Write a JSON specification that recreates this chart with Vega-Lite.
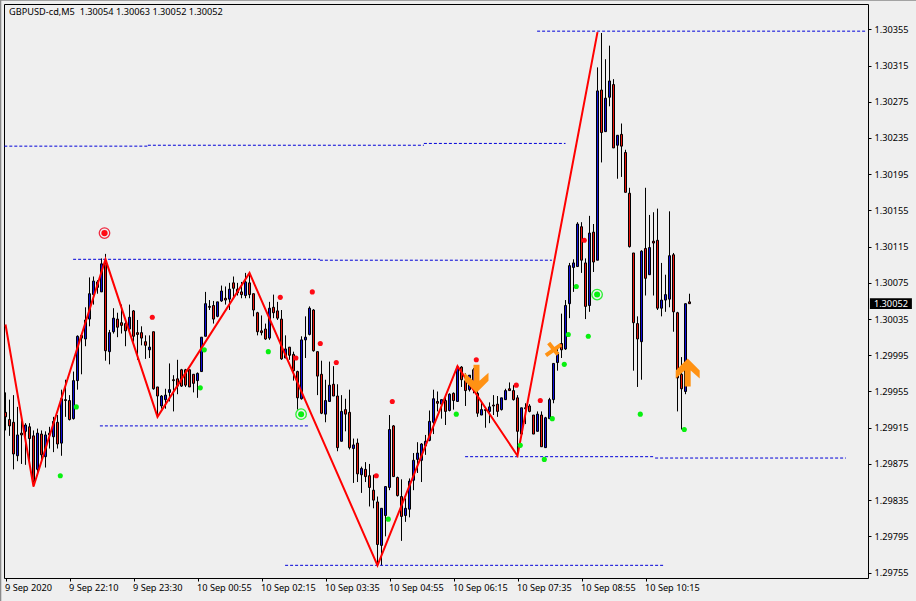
{
"$schema":"https://vega.github.io/schema/vega-lite/v6.json",
"width":864,"height":574,
"autosize":{"type":"none"},
"padding":{"left":4,"top":4,"right":48,"bottom":23},
"background":"#efefef",
"config":{"view":{"stroke":"black","strokeWidth":1,"fill":"#efefef"},"font":"Noto Sans"},
"datasets":{
"candles":[
{"i":0,"o":1.29932,"h":1.29954,"l":1.29912,"c":1.29927},
{"i":1,"o":1.29924,"h":1.29946,"l":1.29906,"c":1.29917},
{"i":2,"o":1.29921,"h":1.29951,"l":1.29869,"c":1.29886},
{"i":3,"o":1.29884,"h":1.29938,"l":1.29878,"c":1.29907},
{"i":4,"o":1.29909,"h":1.29923,"l":1.29875,"c":1.29907},
{"i":5,"o":1.29911,"h":1.2992,"l":1.29874,"c":1.29918},
{"i":6,"o":1.29916,"h":1.2992,"l":1.29879,"c":1.29903},
{"i":7,"o":1.29906,"h":1.29912,"l":1.2985,"c":1.29856},
{"i":8,"o":1.29869,"h":1.29914,"l":1.29865,"c":1.29909},
{"i":9,"o":1.29908,"h":1.29912,"l":1.29876,"c":1.29885},
{"i":10,"o":1.29883,"h":1.29911,"l":1.29871,"c":1.29907},
{"i":11,"o":1.29909,"h":1.29916,"l":1.29892,"c":1.29907},
{"i":12,"o":1.29905,"h":1.29927,"l":1.29888,"c":1.29922},
{"i":13,"o":1.29921,"h":1.29929,"l":1.29892,"c":1.29897},
{"i":14,"o":1.29898,"h":1.29957,"l":1.29884,"c":1.29947},
{"i":15,"o":1.29946,"h":1.29968,"l":1.29927,"c":1.29945},
{"i":16,"o":1.29945,"h":1.29951,"l":1.29923,"c":1.29924},
{"i":17,"o":1.29925,"h":1.29977,"l":1.29924,"c":1.29967},
{"i":18,"o":1.29967,"h":1.30017,"l":1.29957,"c":1.30016},
{"i":19,"o":1.30017,"h":1.30018,"l":1.29974,"c":1.30014},
{"i":20,"o":1.30013,"h":1.30048,"l":1.30005,"c":1.30034},
{"i":21,"o":1.30035,"h":1.30081,"l":1.30027,"c":1.30063},
{"i":22,"o":1.30062,"h":1.30082,"l":1.30051,"c":1.30077},
{"i":23,"o":1.30076,"h":1.30078,"l":1.30063,"c":1.3007},
{"i":24,"o":1.30065,"h":1.30102,"l":1.30065,"c":1.30096},
{"i":25,"o":1.30097,"h":1.30107,"l":1.29989,"c":1.3},
{"i":26,"o":1.29999,"h":1.30023,"l":1.29985,"c":1.3002},
{"i":27,"o":1.30021,"h":1.30047,"l":1.30019,"c":1.30036},
{"i":28,"o":1.30035,"h":1.30042,"l":1.30015,"c":1.30026},
{"i":29,"o":1.30031,"h":1.30051,"l":1.30019,"c":1.30028},
{"i":30,"o":1.3003,"h":1.30034,"l":1.30005,"c":1.30022},
{"i":31,"o":1.30024,"h":1.30051,"l":1.30019,"c":1.30037},
{"i":32,"o":1.30044,"h":1.30045,"l":1.3001,"c":1.30016},
{"i":33,"o":1.3002,"h":1.30034,"l":1.2999,"c":1.30018},
{"i":34,"o":1.3002,"h":1.30027,"l":1.30006,"c":1.30014},
{"i":35,"o":1.3001,"h":1.30017,"l":1.29991,"c":1.30006},
{"i":36,"o":1.30001,"h":1.30017,"l":1.29992,"c":1.30004},
{"i":37,"o":1.30021,"h":1.30021,"l":1.29957,"c":1.29958},
{"i":38,"o":1.2996,"h":1.2996,"l":1.29926,"c":1.2995},
{"i":39,"o":1.29939,"h":1.29951,"l":1.29936,"c":1.2995},
{"i":40,"o":1.29946,"h":1.29958,"l":1.29936,"c":1.29951},
{"i":41,"o":1.29954,"h":1.29986,"l":1.29944,"c":1.29957},
{"i":42,"o":1.29968,"h":1.29973,"l":1.29933,"c":1.29967},
{"i":43,"o":1.29969,"h":1.2999,"l":1.29952,"c":1.29961},
{"i":44,"o":1.29979,"h":1.2998,"l":1.2996,"c":1.29961},
{"i":45,"o":1.29979,"h":1.2998,"l":1.2996,"c":1.29962},
{"i":46,"o":1.29979,"h":1.29979,"l":1.2996,"c":1.2996},
{"i":47,"o":1.29974,"h":1.29974,"l":1.29954,"c":1.29964},
{"i":48,"o":1.29967,"h":1.29976,"l":1.29948,"c":1.29975},
{"i":49,"o":1.29977,"h":1.30015,"l":1.29977,"c":1.30015},
{"i":50,"o":1.30016,"h":1.30065,"l":1.30016,"c":1.30052},
{"i":51,"o":1.30049,"h":1.30056,"l":1.30045,"c":1.30048},
{"i":52,"o":1.3005,"h":1.30055,"l":1.3003,"c":1.30035},
{"i":53,"o":1.30038,"h":1.30054,"l":1.30037,"c":1.30054},
{"i":54,"o":1.30055,"h":1.30072,"l":1.30054,"c":1.30066},
{"i":55,"o":1.30058,"h":1.30071,"l":1.30051,"c":1.30056},
{"i":56,"o":1.30057,"h":1.30075,"l":1.30045,"c":1.30068},
{"i":57,"o":1.30075,"h":1.30082,"l":1.30058,"c":1.30069},
{"i":58,"o":1.30068,"h":1.30075,"l":1.30061,"c":1.30064},
{"i":59,"o":1.30065,"h":1.30076,"l":1.30058,"c":1.30062},
{"i":60,"o":1.30061,"h":1.30086,"l":1.30058,"c":1.30076},
{"i":61,"o":1.30075,"h":1.30086,"l":1.30058,"c":1.30062},
{"i":62,"o":1.30063,"h":1.30063,"l":1.30038,"c":1.30045},
{"i":63,"o":1.30042,"h":1.30043,"l":1.30017,"c":1.30021},
{"i":64,"o":1.30022,"h":1.30039,"l":1.30017,"c":1.3002},
{"i":65,"o":1.30024,"h":1.3003,"l":1.30012,"c":1.30013},
{"i":66,"o":1.30014,"h":1.30054,"l":1.30012,"c":1.30047},
{"i":67,"o":1.30048,"h":1.30062,"l":1.30036,"c":1.30042},
{"i":68,"o":1.30044,"h":1.30054,"l":1.30034,"c":1.30036},
{"i":69,"o":1.30035,"h":1.30045,"l":1.2999,"c":1.29991},
{"i":70,"o":1.29992,"h":1.30017,"l":1.29992,"c":1.30002},
{"i":71,"o":1.30004,"h":1.30004,"l":1.2999,"c":1.29995},
{"i":72,"o":1.29996,"h":1.29999,"l":1.29967,"c":1.29978},
{"i":73,"o":1.29977,"h":1.29978,"l":1.29935,"c":1.29948},
{"i":74,"o":1.29947,"h":1.30016,"l":1.29946,"c":1.30012},
{"i":75,"o":1.30012,"h":1.30038,"l":1.29992,"c":1.30015},
{"i":76,"o":1.30018,"h":1.30049,"l":1.30017,"c":1.30047},
{"i":77,"o":1.30045,"h":1.30046,"l":1.29999,"c":1.3},
{"i":78,"o":1.29999,"h":1.29999,"l":1.29951,"c":1.29972},
{"i":79,"o":1.29974,"h":1.29989,"l":1.2993,"c":1.29931},
{"i":80,"o":1.2993,"h":1.29968,"l":1.29921,"c":1.29945},
{"i":81,"o":1.29944,"h":1.29988,"l":1.29944,"c":1.29962},
{"i":82,"o":1.29963,"h":1.29983,"l":1.2995,"c":1.2995},
{"i":83,"o":1.2995,"h":1.29963,"l":1.29889,"c":1.29893},
{"i":84,"o":1.299,"h":1.29951,"l":1.299,"c":1.29933},
{"i":85,"o":1.29935,"h":1.29947,"l":1.29911,"c":1.2993},
{"i":86,"o":1.29932,"h":1.29957,"l":1.29891,"c":1.29893},
{"i":87,"o":1.29892,"h":1.29903,"l":1.29854,"c":1.29896},
{"i":88,"o":1.29898,"h":1.29903,"l":1.29855,"c":1.29864},
{"i":89,"o":1.29863,"h":1.29872,"l":1.29843,"c":1.2987},
{"i":90,"o":1.29869,"h":1.29877,"l":1.29855,"c":1.29861},
{"i":91,"o":1.29862,"h":1.29875,"l":1.29828,"c":1.29849},
{"i":92,"o":1.29846,"h":1.29863,"l":1.29826,"c":1.29835},
{"i":93,"o":1.29833,"h":1.29839,"l":1.29763,"c":1.29786},
{"i":94,"o":1.29785,"h":1.29826,"l":1.29763,"c":1.29826},
{"i":95,"o":1.29818,"h":1.2985,"l":1.29795,"c":1.2985},
{"i":96,"o":1.29849,"h":1.29929,"l":1.29846,"c":1.29913},
{"i":97,"o":1.29917,"h":1.29918,"l":1.29861,"c":1.29861},
{"i":98,"o":1.2986,"h":1.29861,"l":1.29839,"c":1.2984},
{"i":99,"o":1.29839,"h":1.29858,"l":1.2979,"c":1.29817},
{"i":100,"o":1.29818,"h":1.29837,"l":1.29811,"c":1.29826},
{"i":101,"o":1.29825,"h":1.29859,"l":1.29816,"c":1.29856},
{"i":102,"o":1.29857,"h":1.29887,"l":1.29846,"c":1.29879},
{"i":103,"o":1.2988,"h":1.29899,"l":1.29865,"c":1.29887},
{"i":104,"o":1.29879,"h":1.29898,"l":1.29855,"c":1.29897},
{"i":105,"o":1.29895,"h":1.29907,"l":1.29885,"c":1.299},
{"i":106,"o":1.29901,"h":1.29934,"l":1.299,"c":1.29922},
{"i":107,"o":1.29921,"h":1.29957,"l":1.29908,"c":1.29947},
{"i":108,"o":1.29944,"h":1.29955,"l":1.29933,"c":1.29942},
{"i":109,"o":1.29941,"h":1.29946,"l":1.29925,"c":1.29946},
{"i":110,"o":1.29945,"h":1.29951,"l":1.29918,"c":1.29933},
{"i":111,"o":1.29934,"h":1.29953,"l":1.29933,"c":1.29952},
{"i":112,"o":1.29953,"h":1.29954,"l":1.29935,"c":1.29945},
{"i":113,"o":1.29944,"h":1.29982,"l":1.29944,"c":1.29982},
{"i":114,"o":1.29982,"h":1.29983,"l":1.2996,"c":1.29968},
{"i":115,"o":1.29967,"h":1.29975,"l":1.29939,"c":1.29956},
{"i":116,"o":1.29957,"h":1.29973,"l":1.29955,"c":1.29973},
{"i":117,"o":1.2996,"h":1.29981,"l":1.29953,"c":1.29979},
{"i":118,"o":1.29953,"h":1.29981,"l":1.29927,"c":1.29931},
{"i":119,"o":1.29929,"h":1.29944,"l":1.29929,"c":1.29935},
{"i":120,"o":1.29935,"h":1.29936,"l":1.29915,"c":1.29934},
{"i":121,"o":1.29933,"h":1.29943,"l":1.2992,"c":1.29938},
{"i":122,"o":1.2994,"h":1.29951,"l":1.29929,"c":1.29939},
{"i":123,"o":1.29941,"h":1.2995,"l":1.29927,"c":1.29933},
{"i":124,"o":1.29935,"h":1.29948,"l":1.29934,"c":1.29948},
{"i":125,"o":1.29946,"h":1.29958,"l":1.29946,"c":1.29956},
{"i":126,"o":1.29958,"h":1.29965,"l":1.29956,"c":1.29956},
{"i":127,"o":1.29956,"h":1.29962,"l":1.29945,"c":1.29946},
{"i":128,"o":1.29948,"h":1.29951,"l":1.29884,"c":1.29911},
{"i":129,"o":1.29908,"h":1.29937,"l":1.29908,"c":1.29937},
{"i":130,"o":1.29937,"h":1.29942,"l":1.29919,"c":1.29936},
{"i":131,"o":1.29939,"h":1.29941,"l":1.29932,"c":1.29933},
{"i":132,"o":1.29929,"h":1.29929,"l":1.29908,"c":1.29908},
{"i":133,"o":1.29911,"h":1.29933,"l":1.29911,"c":1.2993},
{"i":134,"o":1.29929,"h":1.29933,"l":1.29894,"c":1.29894},
{"i":135,"o":1.29893,"h":1.29927,"l":1.29893,"c":1.29926},
{"i":136,"o":1.29925,"h":1.29948,"l":1.29925,"c":1.29946},
{"i":137,"o":1.29946,"h":1.29986,"l":1.29942,"c":1.29986},
{"i":138,"o":1.29987,"h":1.30006,"l":1.29978,"c":1.29998},
{"i":139,"o":1.30008,"h":1.30041,"l":1.29992,"c":1.30001},
{"i":140,"o":1.30002,"h":1.30056,"l":1.30001,"c":1.3005},
{"i":141,"o":1.30052,"h":1.30097,"l":1.30036,"c":1.30094},
{"i":142,"o":1.30092,"h":1.30101,"l":1.30065,"c":1.30097},
{"i":143,"o":1.30093,"h":1.30142,"l":1.30093,"c":1.3014},
{"i":144,"o":1.30137,"h":1.30142,"l":1.30086,"c":1.301},
{"i":145,"o":1.30097,"h":1.30102,"l":1.30035,"c":1.30049},
{"i":146,"o":1.3005,"h":1.30149,"l":1.30043,"c":1.3013},
{"i":147,"o":1.30131,"h":1.3014,"l":1.30087,"c":1.30098},
{"i":148,"o":1.301,"h":1.30313,"l":1.301,"c":1.30287},
{"i":149,"o":1.30288,"h":1.30351,"l":1.30208,"c":1.30241},
{"i":150,"o":1.30242,"h":1.30322,"l":1.30242,"c":1.30279},
{"i":151,"o":1.3028,"h":1.30337,"l":1.3027,"c":1.30298},
{"i":152,"o":1.30294,"h":1.303,"l":1.30224,"c":1.30224},
{"i":153,"o":1.30227,"h":1.30238,"l":1.3019,"c":1.30238},
{"i":154,"o":1.30239,"h":1.30251,"l":1.30192,"c":1.30226},
{"i":155,"o":1.30219,"h":1.30222,"l":1.30175,"c":1.30175},
{"i":156,"o":1.30174,"h":1.3018,"l":1.30114,"c":1.30115},
{"i":157,"o":1.30108,"h":1.30108,"l":1.29978,"c":1.30031},
{"i":158,"o":1.3003,"h":1.30038,"l":1.2996,"c":1.30013},
{"i":159,"o":1.3001,"h":1.30111,"l":1.29968,"c":1.3011},
{"i":160,"o":1.30113,"h":1.3018,"l":1.30061,"c":1.3008},
{"i":161,"o":1.30084,"h":1.3015,"l":1.30084,"c":1.30114},
{"i":162,"o":1.30121,"h":1.30153,"l":1.30061,"c":1.30119},
{"i":163,"o":1.30122,"h":1.30157,"l":1.30045,"c":1.30047},
{"i":164,"o":1.30047,"h":1.30097,"l":1.30038,"c":1.30056},
{"i":165,"o":1.30056,"h":1.30084,"l":1.30043,"c":1.30062},
{"i":166,"o":1.30057,"h":1.30154,"l":1.30048,"c":1.30105},
{"i":167,"o":1.30106,"h":1.30108,"l":1.30021,"c":1.30043},
{"i":168,"o":1.30042,"h":1.30043,"l":1.29933,"c":1.2997},
{"i":169,"o":1.29974,"h":1.29993,"l":1.29913,"c":1.29958},
{"i":170,"o":1.29955,"h":1.30052,"l":1.29952,"c":1.30052},
{"i":171,"o":1.30054,"h":1.30063,"l":1.30052,"c":1.30052}
]},
"encoding":{
"x":{"field":"i","type":"quantitative","scale":{"domain":[-0.375,215.625],"nice":false,"zero":false,"padding":0},
"axis":{"values":[0,16,32,48,64,80,96,112,128,144,160],"grid":false,"domain":false,"title":null,"tickSize":3,"tickColor":"black","labelAlign":"left","labelBaseline":"top","labelPadding":2,"labelOffset":-1,"labelFontSize":9.2,"labelColor":"black","labelFont":"Noto Sans","labelFlush":false,"labelBound":false,"labelOverlap":false,
"labelExpr":"['9 Sep 2020','9 Sep 22:10','9 Sep 23:30','10 Sep 00:55','10 Sep 02:15','10 Sep 03:35','10 Sep 04:55','10 Sep 06:15','10 Sep 07:35','10 Sep 08:55','10 Sep 10:15'][datum.value/16]"}}
},
"layer":[
{"data":{"name":"candles"},"mark":{"type":"rule","color":"black","strokeWidth":1},
"encoding":{"y":{"field":"l","type":"quantitative","scale":{"domain":[1.29749,1.30383],"nice":false,"zero":false},
"axis":{"orient":"right","tickCount":20,"values":[1.30355,1.30315,1.30275,1.30235,1.30195,1.30155,1.30115,1.30075,1.30035,1.29995,1.29955,1.29915,1.29875,1.29835,1.29795,1.29755],"format":".5f","grid":false,"domain":false,"title":null,"tickSize":3,"tickColor":"black","labelPadding":3,"labelFontSize":9.2,"labelColor":"black","labelFont":"Noto Sans","labelOverlap":false,"labelFlush":false,"labelBound":false}},
"y2":{"field":"h"}}},
{"data":{"name":"candles"},"mark":{"type":"bar","size":2,"stroke":"black","strokeWidth":1},
"encoding":{"y":{"field":"o","type":"quantitative"},"y2":{"field":"c"},
"color":{"condition":{"test":"datum.c>=datum.o","value":"#1010d8"},"value":"#e8140c"}}},
{"data":{"values":[
{"i":-0.3,"i2":35.6,"p":1.30226},{"i":35.6,"i2":104.6,"p":1.30227},{"i":104.6,"i2":140,"p":1.30229},
{"i":16.9,"i2":78.6,"p":1.30101},{"i":78.6,"i2":136.6,"p":1.301},
{"i":23.6,"i2":76,"p":1.29917},{"i":69.9,"i2":164.9,"p":1.29763},
{"i":114.9,"i2":162.4,"p":1.29883},{"i":162.4,"i2":210.1,"p":1.298815},
{"i":132.9,"i2":215.1,"p":1.30353}]},
"mark":{"type":"rule","color":"#0000d8","strokeWidth":1,"strokeDash":[3,2]},
"encoding":{"x2":{"field":"i2"},"y":{"field":"p","type":"quantitative"}}},
{"data":{"values":[
{"i":0,"p":1.30029},{"i":7,"p":1.2985},{"i":25,"p":1.30101},{"i":38,"p":1.29927},{"i":61,"p":1.30086},{"i":93,"p":1.29763},{"i":113,"p":1.29983},{"i":128,"p":1.29884},{"i":148,"p":1.30352}]},
"mark":{"type":"line","color":"#ff0000","strokeWidth":2},
"encoding":{"y":{"field":"p","type":"quantitative"}}},
{"data":{"values":[
{"i":36.7,"p":1.30037},{"i":68.7,"p":1.30059},{"i":76.7,"p":1.30065},{"i":72.6,"p":1.29992},{"i":78.7,"p":1.30008},{"i":82.7,"p":1.29987},{"i":96.7,"p":1.29944},{"i":92.7,"p":1.29862},{"i":117.7,"p":1.2999},{"i":127.7,"p":1.29962},{"i":133.7,"p":1.29945},{"i":144.7,"p":1.30122}]},
"mark":{"type":"point","filled":true,"color":"#ff0a14","opacity":1,"size":26},
"encoding":{"y":{"field":"p","type":"quantitative"}}},
{"data":{"values":[
{"i":17.7,"p":1.29938},{"i":13.7,"p":1.29862},{"i":49.7,"p":1.30001},{"i":48.7,"p":1.29959},{"i":65.7,"p":1.29999},{"i":95.7,"p":1.29814},{"i":112.7,"p":1.2993},{"i":128.7,"p":1.298955},{"i":134.7,"p":1.2988},{"i":136.7,"p":1.29925},{"i":139.7,"p":1.29985},{"i":140.7,"p":1.30018},{"i":142.7,"p":1.30071},{"i":145.7,"p":1.30016},{"i":158.7,"p":1.2993},{"i":169.7,"p":1.29913}]},
"mark":{"type":"point","filled":true,"color":"#08f010","opacity":1,"size":26},
"encoding":{"y":{"field":"p","type":"quantitative"}}},
{"data":{"values":[{"i":73.9,"p":1.2993},{"i":147.9,"p":1.30062}]},
"mark":{"type":"point","filled":true,"color":"#08f010","opacity":1,"size":36},
"encoding":{"y":{"field":"p","type":"quantitative"}}},
{"data":{"values":[{"i":73.9,"p":1.2993},{"i":147.9,"p":1.30062}]},
"mark":{"type":"point","filled":false,"color":"#28f030","strokeWidth":1.3,"opacity":1,"size":110},
"encoding":{"y":{"field":"p","type":"quantitative"}}},
{"data":{"values":[{"i":24.75,"p":1.3013}]},
"mark":{"type":"point","filled":true,"color":"#ff0a14","opacity":1,"size":40},
"encoding":{"y":{"field":"p","type":"quantitative"}}},
{"data":{"values":[{"i":24.75,"p":1.3013}]},
"mark":{"type":"point","filled":false,"color":"#f02840","strokeWidth":1.3,"opacity":1,"size":110},
"encoding":{"y":{"field":"p","type":"quantitative"}}},
{"data":{"values":[{"i":117.75,"p":1.29969}]},
"mark":{"type":"point","filled":true,"color":"#ff9214","opacity":1,"size":784,
"shape":"M-.214,-1L.214,-1L.214,.143L.857,-.43L.857,.143L0,1L-.857,.143L-.857,-.43L-.214,.143Z"},
"encoding":{"y":{"field":"p","type":"quantitative"}}},
{"data":{"values":[{"i":170.55,"p":1.29976}]},
"mark":{"type":"point","filled":true,"color":"#ff9214","opacity":1,"size":784,
"shape":"M-.214,1L.214,1L.214,-.143L.857,.43L.857,-.143L0,-1L-.857,-.143L-.857,.43L-.214,-.143Z"},
"encoding":{"y":{"field":"p","type":"quantitative"}}},
{"data":{"values":[{"i":136.9,"p":1.30002}]},
"mark":{"type":"point","filled":false,"color":"#ff9214","strokeWidth":4,"opacity":1,"size":256,
"shape":"M-.9,.8L1,-.55M-.55,-.75L.6,.7"},
"encoding":{"y":{"field":"p","type":"quantitative"}}},
{"data":{"values":[{"i":216.1,"i2":226.6,"p":1.30058,"p2":1.30046}]},
"mark":{"type":"rect","color":"black"},
"encoding":{"x2":{"field":"i2"},"y":{"field":"p","type":"quantitative"},"y2":{"field":"p2"}}},
{"data":{"values":[{"i":-1.375,"i2":-1.05,"p":1.30388,"p2":1.29723},{"i":-1.375,"i2":228,"p":1.30388,"p2":1.303866}]},
"mark":{"type":"rect","color":"#8a8a8a"},
"encoding":{"x2":{"field":"i2"},"y":{"field":"p","type":"quantitative"},"y2":{"field":"p2"}}},
{"data":{"values":[{"i":217.1,"p":1.30052,"label":"1.30052"}]},
"mark":{"type":"text","color":"white","align":"left","baseline":"middle","fontSize":9.2,"font":"Noto Sans"},
"encoding":{"y":{"field":"p","type":"quantitative"},"text":{"field":"label"}}},
{"data":{"values":[{"i":0.9,"p":1.30374,"label":"GBPUSD-cd,M5\u00a0\u00a01.30054 1.30063 1.30052 1.30052"}]},
"mark":{"type":"text","color":"black","align":"left","baseline":"middle","fontSize":9.2,"font":"Noto Sans"},
"encoding":{"y":{"field":"p","type":"quantitative"},"text":{"field":"label"}}}
]
}
